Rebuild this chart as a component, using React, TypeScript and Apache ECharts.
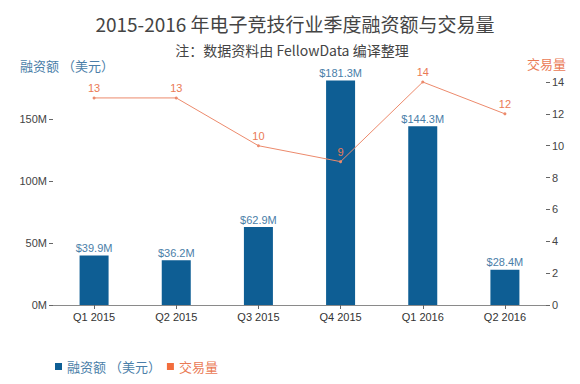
import React, { useEffect, useRef } from "react";
import * as echarts from "echarts";

const categories = ["Q1 2015", "Q2 2015", "Q3 2015", "Q4 2015", "Q1 2016", "Q2 2016"];
const fundingM = [39.9, 36.2, 62.9, 181.3, 144.3, 28.4];
const dealCount = [13, 13, 10, 9, 14, 12];
const titleText = "2015-2016 年电子竞技行业季度融资额与交易量";
const subtitleText = "注：数据资料由 FellowData 编译整理";
const leftAxisName = "融资额 （美元）";
const rightAxisName = "交易量";

const BLUE = "#0e5e94";
const BLUE_TEXT = "#4a7ea8";
const ORANGE = "#f26d3d";
const ORANGE_LINE = "#ec8a6c";
const ORANGE_TEXT = "#ea7a55";
const CJK = "'Noto Sans CJK SC', 'Noto Sans', sans-serif";
const LAT = "'Liberation Sans', Arial, sans-serif";

export default function App() {
  const ref = useRef<HTMLDivElement>(null);
  useEffect(() => {
    if (!ref.current) return;
    const chart = echarts.init(ref.current, undefined, { renderer: "svg" });
    chart.setOption({
      animation: false,
      backgroundColor: "#ffffff",
      title: [
        {
          text: titleText,
          left: 290,
          textAlign: "center",
          top: 9,
          textStyle: { fontFamily: CJK, fontSize: 19, fontWeight: "normal", color: "#444" },
        },
        {
          text: subtitleText,
          left: 287,
          textAlign: "center",
          top: 38,
          textStyle: { fontFamily: CJK, fontSize: 14, fontWeight: "normal", color: "#444" },
        },
      ],
      graphic: [
        {
          type: "text",
          left: 20,
          top: 59,
          style: { text: leftAxisName, fill: BLUE_TEXT, font: `13px ${CJK}` },
        },
        {
          type: "text",
          right: 14,
          top: 57,
          style: { text: rightAxisName, fill: ORANGE_TEXT, font: `13px ${CJK}` },
        },
      ],
      legend: {
        left: 50,
        top: 355,
        itemWidth: 7,
        itemHeight: 7,
        itemGap: 6,
        icon: "rect",
        textStyle: { fontFamily: CJK, fontSize: 13 },
        data: [
          { name: leftAxisName, itemStyle: { color: BLUE }, textStyle: { color: BLUE_TEXT } },
          { name: rightAxisName, itemStyle: { color: ORANGE }, textStyle: { color: ORANGE_TEXT } },
        ],
      },
      grid: { left: 53, right: 34, top: 82, bottom: 79, containLabel: false },
      xAxis: {
        type: "category",
        data: categories,
        boundaryGap: true,
        axisLine: { show: true, lineStyle: { color: "#8a8a8a", width: 1 } },
        axisTick: { show: true, alignWithLabel: true, length: 4, lineStyle: { color: "#666" } },
        axisLabel: { fontFamily: LAT, fontSize: 11, color: "#333", margin: 6 },
        splitLine: { show: false },
      },
      yAxis: [
        {
          type: "value",
          min: 0,
          max: 180,
          interval: 50,
          axisLine: { show: false },
          axisTick: { show: true, length: 4, lineStyle: { color: "#666" } },
          axisLabel: {
            fontFamily: LAT,
            fontSize: 11,
            color: "#444",
            margin: 6,
            showMaxLabel: false,
            formatter: (v: number) => (v === 180 ? "" : `${v}M`),
          },
          splitLine: { show: false },
        },
        {
          type: "value",
          min: 0,
          max: 14,
          interval: 2,
          position: "right",
          axisLine: { show: false },
          axisTick: { show: true, length: 4, lineStyle: { color: "#666" } },
          axisLabel: { fontFamily: LAT, fontSize: 11, color: "#444", margin: 6 },
          splitLine: { show: false },
        },
      ],
      series: [
        {
          name: leftAxisName,
          type: "bar",
          yAxisIndex: 0,
          data: fundingM,
          barWidth: 29,
          clip: false,
          itemStyle: { color: BLUE },
          label: {
            show: true,
            position: "top",
            distance: 2,
            fontFamily: LAT,
            fontSize: 11,
            color: BLUE_TEXT,
            formatter: (p: any) => `$${p.value.toFixed(1)}M`,
          },
          z: 2,
        },
        {
          name: rightAxisName,
          type: "line",
          yAxisIndex: 1,
          data: dealCount,
          symbol: "circle",
          symbolSize: 3,
          lineStyle: { color: ORANGE_LINE, width: 1 },
          itemStyle: { color: ORANGE_LINE },
          label: {
            show: true,
            position: "top",
            distance: 3,
            fontFamily: LAT,
            fontSize: 11,
            color: ORANGE_TEXT,
          },
          z: 3,
        },
      ],
    });
    return () => chart.dispose();
  }, []);
  return (
    <div
      ref={ref}
      style={{ position: "absolute", left: 0, top: 0, width: 580, height: 384, background: "#fff" }}
    />
  );
}
